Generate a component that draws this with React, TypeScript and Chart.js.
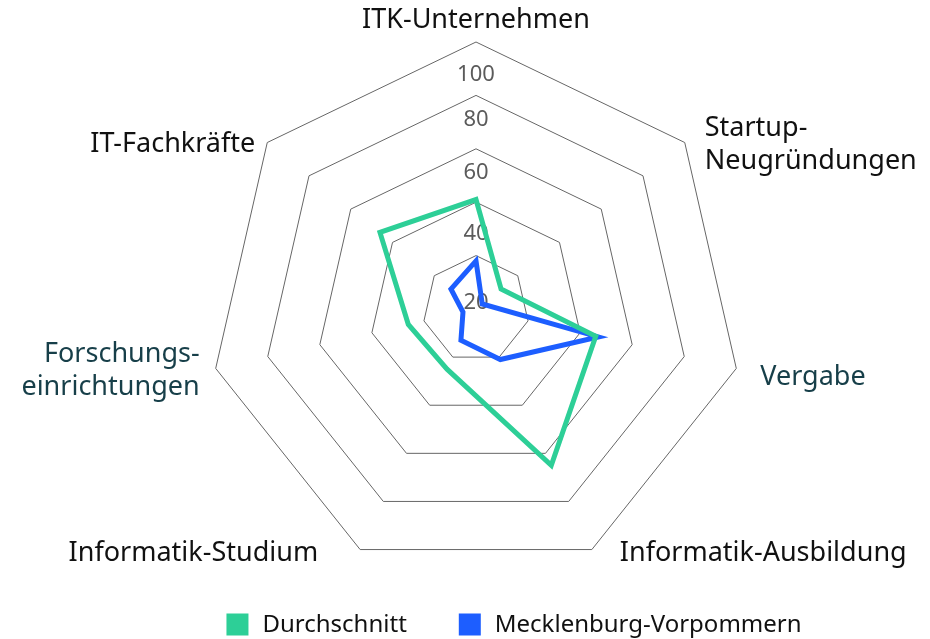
import React, { useEffect, useRef } from "react";
import { Chart, registerables } from "chart.js";

Chart.register(...registerables);

const CATEGORIES: (string | string[])[] = [
  "ITK-Unternehmen",
  ["Startup-", "Neugründungen"],
  "Vergabe",
  "Informatik-Ausbildung",
  "Informatik-Studium",
  ["Forschungs-", "einrichtungen"],
  "IT-Fachkräfte",
];
const SERIES_NAMES = ["Durchschnitt", "Mecklenburg-Vorpommern"];
const DURCHSCHNITT = [41, 12, 46, 65, 25, 26, 46];
const MECKLENBURG_VORPOMMERN = [18, 3, 47, 21, 13, 5, 12];
const TICK_VALUES = [0, 20, 40, 60, 80, 100];

const FONT_FAMILY = '"Noto Sans", "DejaVu Sans", sans-serif';
const SERIES_COLORS = ["#2dcf97", "#1d5eff"];
const POINT_LABEL_COLORS = ["#111111", "#111111", "#173f49", "#111111", "#111111", "#173f49", "#111111"];
const POINT_LABEL_GAPS = [22, 20, 24, 28, 42, 16, 12];
const POINT_LABEL_DY = [0, 2, 9, 4, 4, 2, 2];

// tick labels sit between the rings, as in the reference
const tickLabelValue = (v: number) => -0.003734 * v * v + 1.515 * v - 26.56;

const textPlugin = {
  id: "radarText",
  beforeDatasetsDraw(chart: any) {
    const scale = chart.scales.r;
    const ctx = chart.ctx as CanvasRenderingContext2D;
    ctx.save();
    ctx.font = `22px ${FONT_FAMILY}`;
    ctx.fillStyle = "#5b5b5b";
    ctx.textAlign = "center";
    ctx.textBaseline = "middle";
    for (const tick of scale.ticks) {
      if (tick.value <= scale.min) continue;
      const d = scale.getDistanceFromCenterForValue(tickLabelValue(tick.value));
      ctx.fillText(String(tick.label ?? tick.value), scale.xCenter, scale.yCenter - d);
    }
    ctx.font = `27px ${FONT_FAMILY}`;
    const lh = 33;
    (chart.data.labels as any[]).forEach((lab, i) => {
      const lines: string[] = Array.isArray(lab) ? lab : [lab];
      const p = scale.getPointPosition(i, scale.drawingArea);
      const cos = Math.cos(p.angle);
      const sin = Math.sin(p.angle);
      const gap = POINT_LABEL_GAPS[i];
      ctx.fillStyle = POINT_LABEL_COLORS[i];
      if (Math.abs(cos) < 0.05) {
        ctx.textAlign = "center";
        const y0 = sin < 0 ? p.y - gap - (lines.length - 1) * lh : p.y + gap;
        lines.forEach((ln, k) => ctx.fillText(ln, p.x, y0 + k * lh));
      } else {
        ctx.textAlign = cos > 0 ? "left" : "right";
        const x = cos > 0 ? p.x + gap : p.x - gap;
        const y0 = p.y + POINT_LABEL_DY[i] - ((lines.length - 1) * lh) / 2;
        lines.forEach((ln, k) => ctx.fillText(ln, x, y0 + k * lh));
      }
    });
    ctx.restore();
  },
  afterDraw(chart: any) {
    const ctx = chart.ctx as CanvasRenderingContext2D;
    ctx.save();
    ctx.font = `24px ${FONT_FAMILY}`;
    ctx.textAlign = "left";
    ctx.textBaseline = "middle";
    const box = 22;
    const boxGap = 14;
    const itemGap = 52;
    const items = chart.data.datasets.map((ds: any) => ({
      text: ds.label as string,
      color: ds.borderColor as string,
      w: ctx.measureText(ds.label).width,
    }));
    const total =
      items.reduce((s: number, it: any) => s + box + boxGap + it.w, 0) + itemGap * (items.length - 1);
    let x = 514 - total / 2;
    const cy = chart.chartArea.bottom + 48.5;
    for (const it of items) {
      ctx.fillStyle = it.color;
      ctx.fillRect(x, cy - box / 2, box, box);
      ctx.fillStyle = "#111111";
      ctx.fillText(it.text, x + box + boxGap, cy + 1);
      x += box + boxGap + it.w + itemGap;
    }
    ctx.restore();
  },
};

export default function App() {
  const ref = useRef<HTMLCanvasElement | null>(null);
  useEffect(() => {
    if (!ref.current) return;
    const mk = (i: number, data: number[]) => ({
      label: SERIES_NAMES[i],
      data,
      borderColor: SERIES_COLORS[i],
      backgroundColor: SERIES_COLORS[i],
      borderWidth: 5,
      fill: false,
      pointRadius: 0,
      pointHoverRadius: 0,
      borderJoinStyle: "miter" as const,
    });
    const chart = new Chart(ref.current, {
      type: "radar",
      data: {
        labels: CATEGORIES as any,
        datasets: [mk(0, DURCHSCHNITT), mk(1, MECKLENBURG_VORPOMMERN)],
      },
      options: {
        animation: false,
        responsive: false,
        devicePixelRatio: 1,
        layout: { padding: { left: 190, right: 168, top: 42, bottom: 63 } },
        plugins: {
          legend: { display: false },
          tooltip: { enabled: false },
        },
        scales: {
          r: {
            min: 0,
            max: 100,
            afterBuildTicks: (scale: any) => {
              scale.ticks = TICK_VALUES.map((v) => ({ value: v }));
            },
            ticks: { display: false },
            grid: { color: "#666666", lineWidth: 1 },
            angleLines: { display: false },
            pointLabels: { display: false },
          },
        },
      },
      plugins: [textPlugin],
    });
    return () => chart.destroy();
  }, []);
  return (
    <div style={{ position: "fixed", left: 0, top: 0, width: 930, height: 639, overflow: "hidden", background: "#fff" }}>
      <canvas ref={ref} width={930} height={639} style={{ display: "block" }} />
    </div>
  );
}
